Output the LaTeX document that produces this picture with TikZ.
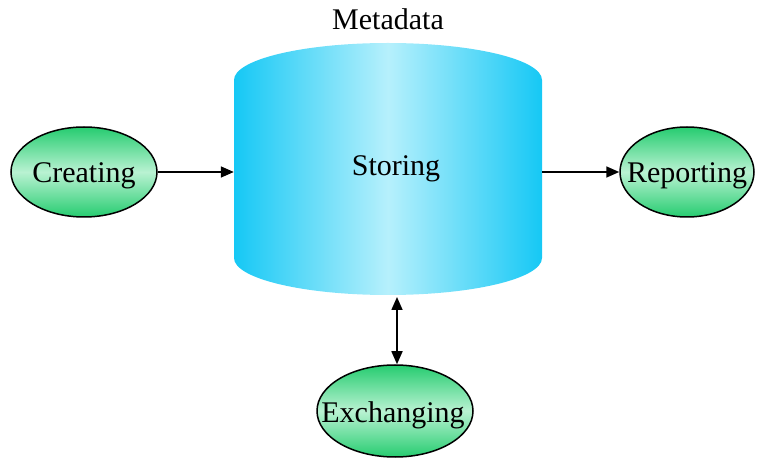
\documentclass[tikz,border=0pt]{standalone}
\usepackage{fontspec}
\setmainfont{Liberation Serif}
\usetikzlibrary{shapes.geometric,arrows.meta}
\definecolor{cyedge}{RGB}{22,200,245}
\definecolor{cymid}{RGB}{182,240,252}
\definecolor{gredge}{RGB}{38,204,112}
\definecolor{grmid}{RGB}{185,242,210}
\tikzset{
  ell/.style={ellipse, draw=black, line width=1.5pt, inner sep=0pt,
    top color=gredge, bottom color=gredge, middle color=grmid},
  lbl/.style={font=\fontsize{30}{32}\selectfont, inner sep=0pt},
  conn/.style={line width=1.6pt, -{Triangle[length=13pt,width=11pt]}},
  dconn/.style={line width=1.6pt, {Triangle[length=13pt,width=11pt]}-{Triangle[length=13pt,width=11pt]}}
}
\begin{document}
\begin{tikzpicture}[x=1pt,y=1pt]
\useasboundingbox (0,0) rectangle (758,458);
% cylinder
\path[left color=cyedge, right color=cyedge, middle color=cymid]
  (234,200) -- (234,378) arc[start angle=180, end angle=0, x radius=154, y radius=37]
  -- (542,200) arc[start angle=0, end angle=-180, x radius=154, y radius=37] -- cycle;
\node[minimum width=308pt, minimum height=252pt, inner sep=0pt] (cyl) at (388,289) {};
\node[lbl] (meta) at (388,439) {Metadata};
\node[lbl] (store) at (396,289) {Storing};
% ellipses
\node[ell, minimum width=146pt, minimum height=90pt, label={[lbl,yshift=-4pt]center:Creating}] (cre) at (84,286) {};
\node[ell, minimum width=134pt, minimum height=90pt, label={[lbl,yshift=-4pt]center:Reporting}] (rep) at (687,286) {};
\node[ell, minimum width=156pt, minimum height=92pt, label={[lbl,yshift=-4pt,xshift=-2pt]center:Exchanging}] (exc) at (395,47) {};
% connectors
\draw[conn] (cre.east) -- (cre.east -| cyl.west);
\draw[conn] (rep.west -| cyl.east) -- (rep.west);
\coordinate (cb) at (397,161);
\draw[dconn] (cb) -- (cb |- exc.north);
\end{tikzpicture}
\end{document}
